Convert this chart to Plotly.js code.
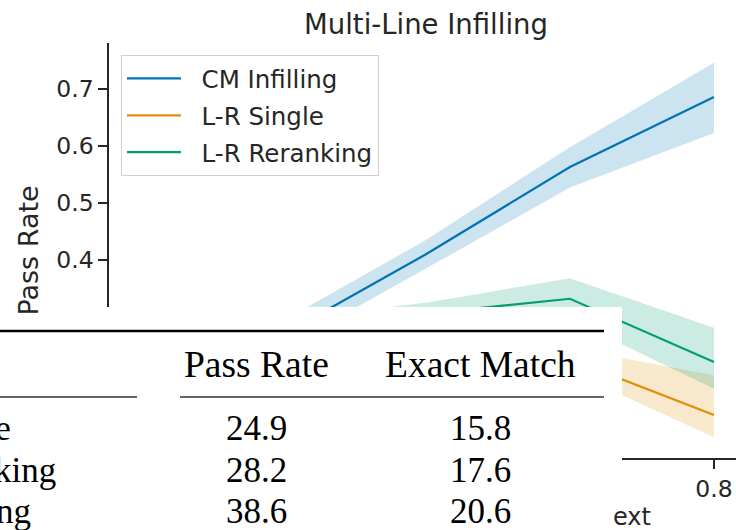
<!DOCTYPE html>
<html>
<head>
<meta charset="utf-8">
<script src="https://cdn.plot.ly/plotly-3.0.1.min.js"></script>
<style>
html, body { margin: 0; padding: 0; background: #ffffff; }
#chart { width: 736px; height: 530px; }
</style>
</head>
<body>
<div id="chart"></div>
<script>
// ---------------- data ----------------
const fractions = [0, 0.2, 0.4, 0.6, 0.8];

const cmMean  = [0.120, 0.268, 0.410, 0.563, 0.686];
const cmLower = [0.100, 0.244, 0.385, 0.527, 0.623];
const cmUpper = [0.140, 0.292, 0.435, 0.598, 0.746];

const singleMean  = [0.150, 0.190, 0.215, 0.226, 0.128];
const singleLower = [0.130, 0.170, 0.195, 0.205, 0.089];
const singleUpper = [0.170, 0.210, 0.235, 0.245, 0.198];

const rerankMean  = [0.200, 0.270, 0.306, 0.332, 0.221];
const rerankLower = [0.180, 0.250, 0.285, 0.296, 0.174];
const rerankUpper = [0.220, 0.295, 0.325, 0.368, 0.281];

const seriesNames = ["CM Infilling", "L-R Single", "L-R Reranking"];
const yTickValues = [0.1, 0.2, 0.3, 0.4, 0.5, 0.6, 0.7];
const xTickValues = [0, 0.2, 0.4, 0.6, 0.8];
const xTitleVisible = "ext";

const tableHeaders = ["Pass Rate", "Exact Match"];
const tableRowNames = ["L-R single", "L-R reranking", "CM infilling"];
const tablePassRate = [24.9, 28.2, 38.6];
const tableExactMatch = [15.8, 17.6, 20.6];

// ---------------- styling ----------------
const colors = ["#0173b2", "#de8f05", "#029e73"];
const fills = ["rgba(1,115,178,0.2)", "rgba(222,143,5,0.2)", "rgba(2,158,115,0.2)"];
const ink = "#262626";
const sans = "DejaVu Sans, sans-serif";
const serif = "Liberation Serif, Times New Roman, serif";

// plot area in pixels
const L = 109, T = 43, W = 627, H = 415;
const px = x => (x - L) / W;
const py = y => (T + H - y) / H;

const groups = [
  [cmMean, cmLower, cmUpper],
  [singleMean, singleLower, singleUpper],
  [rerankMean, rerankLower, rerankUpper]
];

const traces = [];
groups.forEach((g, i) => {
  traces.push({ x: fractions, y: g[1], type: "scatter", mode: "lines",
    line: { width: 0, color: colors[i] }, showlegend: false, hoverinfo: "skip",
    legendgroup: "g" + i });
  traces.push({ x: fractions, y: g[2], type: "scatter", mode: "lines", fill: "tonexty",
    fillcolor: fills[i], line: { width: 0, color: colors[i] }, showlegend: false,
    hoverinfo: "skip", legendgroup: "g" + i });
  traces.push({ x: fractions, y: g[0], type: "scatter", mode: "lines",
    line: { width: 2.2, color: colors[i] }, name: "\u00a0\u00a0" + seriesNames[i], legendgroup: "g" + i });
});

// table overlay
const shapes = [
  { type: "rect", xref: "paper", yref: "paper", x0: px(-10), x1: px(622), y0: py(540), y1: py(307),
    fillcolor: "#ffffff", line: { width: 0 }, layer: "above" },
  { type: "line", xref: "paper", yref: "paper", x0: px(-10), x1: px(604), y0: py(331), y1: py(331),
    line: { color: "#000000", width: 2.6 }, layer: "above" },
  { type: "line", xref: "paper", yref: "paper", x0: px(-10), x1: px(137), y0: py(397), y1: py(397),
    line: { color: "#333333", width: 1.3 }, layer: "above" },
  { type: "line", xref: "paper", yref: "paper", x0: px(180), x1: px(604), y0: py(397), y1: py(397),
    line: { color: "#333333", width: 1.3 }, layer: "above" }
];

const annots = [];
const colCenters = [256, 480];
const headerBase = 377;
const rowBases = [440, 482, 523];
const rowRightEdges = [12, 57, 32];
function addText(text, xPix, basePix, anchor, fs) {
  annots.push({ text: text, xref: "paper", yref: "paper", x: px(xPix), y: py(basePix - 0.33 * fs),
    xanchor: anchor, yanchor: "middle", showarrow: false,
    font: { family: serif, size: fs, color: "#000000" }, borderpad: 0 });
}
tableHeaders.forEach((h, j) => addText(h, colCenters[j], headerBase, "center", 37.5));
tableRowNames.forEach((r, i) => {
  addText(r, rowRightEdges[i], rowBases[i], "right", 35);
  addText(tablePassRate[i].toFixed(1), colCenters[0], rowBases[i], "center", 35);
  addText(tableExactMatch[i].toFixed(1), colCenters[1], rowBases[i], "center", 35);
});
// visible part of the x-axis title (the rest is hidden behind the table)
annots.push({ text: xTitleVisible, xref: "paper", yref: "paper", x: px(652), y: py(525 - 0.33 * 24),
  xanchor: "right", yanchor: "middle", showarrow: false, borderpad: 0,
  font: { family: sans, size: 24, color: ink } });

const layout = {
  width: 736, height: 530, autosize: false,
  margin: { l: L, r: 0, t: T, b: 530 - T - H, pad: 0 },
  paper_bgcolor: "#ffffff", plot_bgcolor: "#ffffff",
  font: { family: sans, color: ink },
  title: { text: "Multi-Line Infilling", font: { family: sans, size: 27.5, color: ink },
    xref: "paper", x: px(426), xanchor: "center", yref: "container", y: 1 - 24 / 530, yanchor: "middle" },
  xaxis: {
    range: [-0.04, 0.8 + 22 / 720], tickvals: xTickValues, ticktext: xTickValues.map(v => v.toFixed(1)),
    showgrid: false, zeroline: false, showline: true, linecolor: ink, linewidth: 1.6,
    ticks: "outside", ticklen: 9, tickwidth: 1.6, tickcolor: ink,
    tickfont: { family: sans, size: 23.5, color: ink }
  },
  yaxis: {
    range: [0.0526, 0.7807], tickvals: yTickValues, ticktext: yTickValues.map(v => v.toFixed(1)),
    showgrid: false, zeroline: false, showline: true, linecolor: ink, linewidth: 1.6,
    ticks: "outside", ticklen: 9, tickwidth: 1.6, tickcolor: ink,
    tickfont: { family: sans, size: 23.5, color: ink },
    title: { text: "Pass Rate", font: { family: sans, size: 27, color: ink }, standoff: 10 }
  },
  legend: {
    x: px(121), y: py(55), xanchor: "left", yanchor: "top",
    bgcolor: "rgba(255,255,255,0.85)", bordercolor: "#d0d0d0", borderwidth: 1,
    font: { family: sans, size: 24.5, color: ink },
    itemwidth: 54, traceorder: "grouped", tracegroupgap: 2
  },
  shapes: shapes,
  annotations: annots,
  showlegend: true
};

Plotly.newPlot("chart", traces, layout, { displayModeBar: false, staticPlot: true });
</script>
</body>
</html>
